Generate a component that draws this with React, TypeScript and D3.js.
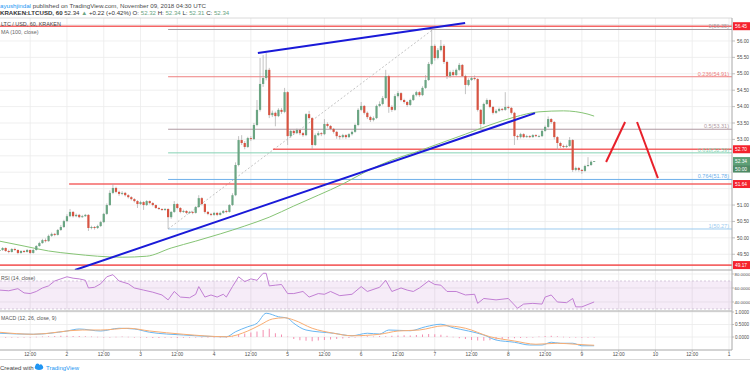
import * as d3 from "d3";

const FONT = "'Liberation Sans', Arial, sans-serif";

// hours counted from 2018-11-01 00:00, one candle per hour
const firstHour = 2;
const firstOpen = 49.6;

const closes = [
  49.63, 49.69, 49.6, 49.57, 49.66, 49.63, 49.54, 49.6, 49.57, 49.63,
  49.54, 49.63, 49.75, 49.84, 49.93, 49.9, 50.06, 50.12, 50.09, 50.24,
  50.33, 50.51, 50.66, 50.79, 50.66, 50.7, 50.63, 50.66, 50.7, 50.3,
  50.33, 50.3, 50.36, 50.48, 50.73, 51.0, 51.37, 51.52, 51.4, 51.34,
  51.37, 51.3, 51.24, 51.18, 51.12, 51.03, 51.09, 51.0, 51.12, 51.06,
  51.0, 50.91, 50.88, 50.85, 50.88, 50.63, 50.79, 51.03, 50.91, 50.79,
  50.82, 50.76, 50.79, 50.76, 50.94, 51.21, 51.03, 50.79, 50.73, 50.7,
  50.76, 50.7, 50.76, 50.82, 50.79, 51.0, 51.3, 52.22, 52.98, 52.89,
  52.77, 53.04, 53.01, 53.44, 53.9, 54.69, 54.87, 55.12, 53.74, 53.81,
  53.71, 53.9, 53.84, 54.44, 53.1, 53.26, 53.19, 53.29, 53.19, 53.13,
  53.77, 53.65, 52.83, 53.13, 53.19, 53.16, 53.47, 53.41, 53.32, 53.23,
  53.1, 53.07, 53.13, 53.07, 53.16, 53.23, 53.44, 53.9, 54.02, 53.81,
  53.68, 53.59, 53.65, 54.02, 54.08, 54.26, 54.93, 53.99, 53.9, 54.32,
  54.41, 54.2, 54.14, 54.05, 54.2, 54.35, 54.44, 54.35, 54.57, 54.81,
  55.3, 55.85, 55.48, 55.72, 55.85, 55.36, 54.93, 55.05, 54.96, 55.12,
  55.27, 54.93, 54.66, 54.81, 54.87, 54.84, 53.9, 53.47, 54.08, 54.2,
  53.99, 53.81, 53.87, 53.93, 53.9, 53.99, 53.96, 53.81, 53.1, 53.07,
  53.16, 53.07, 53.1, 53.07, 53.13, 53.1, 53.1, 53.26, 53.38, 53.62,
  53.53, 53.07, 52.89, 52.8, 52.77, 52.8, 52.98, 52.07, 52.13, 52.07,
  52.04, 52.19, 52.22, 52.32, 52.34,
];

const highs = [
  49.68, 49.72, 49.71, 49.64, 49.69, 49.7, 49.65, 49.62, 49.63, 49.66,
  49.64, 49.66, 49.78, 49.88, 49.97, 49.98, 50.1, 50.16, 50.15, 50.27,
  50.39, 50.55, 50.72, 50.88, 50.82, 50.74, 50.73, 50.7, 50.73, 50.72,
  50.37, 50.36, 50.4, 50.52, 50.76, 51.05, 51.45, 51.64, 51.56, 51.44,
  51.42, 51.4, 51.33, 51.27, 51.21, 51.15, 51.13, 51.12, 51.15, 51.14,
  51.09, 51.02, 50.94, 50.9, 50.91, 50.9, 50.82, 51.12, 51.06, 50.94,
  50.86, 50.84, 50.82, 50.82, 50.97, 51.3, 51.24, 51.06, 50.82, 50.76,
  50.79, 50.79, 50.8, 50.85, 50.86, 51.03, 51.36, 52.3, 53.1, 53.13,
  52.95, 53.08, 53.1, 53.5, 54.2, 55.48, 55.57, 55.63, 55.18, 53.88,
  53.85, 53.95, 53.96, 54.57, 54.47, 53.3, 53.29, 53.33, 53.31, 53.23,
  53.8, 53.87, 53.68, 53.18, 53.25, 53.22, 53.62, 53.52, 53.44, 53.35,
  53.26, 53.14, 53.17, 53.16, 53.19, 53.27, 53.48, 53.95, 54.14, 54.05,
  53.85, 53.72, 53.7, 54.06, 54.16, 54.32, 55.12, 54.97, 54.04, 54.38,
  54.47, 54.44, 54.24, 54.17, 54.24, 54.39, 54.48, 54.47, 54.62, 54.96,
  55.36, 56.35, 55.9, 55.78, 56.03, 55.9, 55.4, 55.1, 55.12, 55.16,
  55.33, 55.3, 54.97, 54.86, 54.92, 54.95, 54.87, 53.93, 54.12, 54.25,
  54.22, 54.02, 53.92, 53.97, 53.96, 54.44, 54.03, 53.99, 53.84, 53.14,
  53.2, 53.19, 53.14, 53.13, 53.16, 53.16, 53.14, 53.3, 53.42, 53.7,
  53.65, 53.56, 53.1, 52.93, 52.84, 52.84, 53.07, 53.01, 52.17, 52.16,
  52.1, 52.23, 52.46, 52.36, 52.34,
];

const lows = [
  49.56, 49.6, 49.57, 49.53, 49.55, 49.6, 49.5, 49.52, 49.54, 49.55,
  49.5, 49.52, 49.61, 49.73, 49.82, 49.86, 49.88, 50.03, 50.05, 50.07,
  50.21, 50.3, 50.48, 50.63, 50.62, 50.63, 50.6, 50.61, 50.64, 50.21,
  50.26, 50.25, 50.27, 50.33, 50.45, 50.7, 50.97, 51.33, 51.36, 51.28,
  51.3, 51.26, 51.2, 51.14, 51.08, 50.91, 51.0, 50.85, 50.97, 51.02,
  50.96, 50.88, 50.85, 50.82, 50.82, 50.27, 50.58, 50.76, 50.87, 50.75,
  50.76, 50.72, 50.73, 50.72, 50.74, 50.91, 50.99, 50.74, 50.69, 50.66,
  50.67, 50.66, 50.68, 50.73, 50.75, 50.77, 50.97, 51.27, 52.18, 52.83,
  52.7, 52.74, 52.95, 52.98, 53.4, 53.85, 54.6, 54.8, 53.65, 53.68,
  53.4, 53.68, 53.78, 53.8, 52.83, 53.05, 53.14, 53.16, 53.13, 53.08,
  53.1, 53.6, 52.7, 52.8, 53.1, 53.1, 53.13, 53.36, 53.28, 53.18,
  53.02, 53.0, 53.03, 53.02, 53.04, 53.12, 53.2, 53.4, 53.86, 53.76,
  53.62, 53.53, 53.55, 53.62, 53.98, 54.04, 54.22, 53.81, 53.84, 53.87,
  54.28, 54.16, 54.09, 53.99, 54.02, 54.17, 54.31, 54.3, 54.32, 54.54,
  54.78, 55.26, 55.4, 55.44, 55.68, 55.3, 54.84, 54.88, 54.92, 54.93,
  55.08, 54.9, 54.38, 54.62, 54.78, 54.8, 53.85, 53.35, 53.44, 54.05,
  53.95, 53.76, 53.78, 53.84, 53.86, 53.87, 53.92, 53.76, 52.83, 52.98,
  53.03, 53.04, 53.05, 53.04, 53.05, 53.07, 53.06, 53.07, 53.23, 53.35,
  53.48, 53.0, 52.68, 52.74, 52.73, 52.74, 52.77, 52.01, 52.03, 52.02,
  51.95, 52.01, 52.16, 52.19, 52.31,
];

// MA(100, close), read at candle indices
const maIdx = [0, 8, 16, 24, 32, 40, 48, 56, 64, 72, 80, 88, 96, 104, 112, 120, 128, 136, 144, 152, 160, 168, 176, 184, 192, 194];
const maVal = [49.9, 49.75, 49.6, 49.51, 49.44, 49.41, 49.44, 49.69, 49.9, 50.12, 50.36, 50.63, 50.97, 51.3, 51.64, 52.04, 52.37, 52.62, 52.89, 53.16, 53.44, 53.68, 53.84, 53.87, 53.77, 53.71];

// RSI(14)
const rsiIdx = [0, 3, 6, 8, 10, 12, 14, 16, 18, 20, 22, 24, 26, 28, 29, 31, 33, 35, 37, 39, 42, 44, 47, 50, 53, 55, 57, 59, 62, 64, 65, 67, 69, 71, 73, 74, 76, 78, 80, 82, 84, 86, 87, 88, 90, 92, 94, 96, 99, 100, 101, 104, 106, 108, 111, 115, 118, 120, 124, 126, 128, 131, 133, 135, 137, 140, 142, 144, 146, 149, 152, 155, 156, 158, 162, 166, 169, 171, 174, 177, 178, 180, 182, 185, 187, 188, 190, 194];
const rsiVal = [57, 56, 59, 53, 52, 55, 60, 63, 70, 73, 76, 74, 73, 71, 60, 61, 66, 76, 79, 70, 66, 60, 57, 54, 50, 43, 55, 47, 46, 51, 62, 47, 50, 47, 51, 47, 62, 76, 69, 73, 71, 81, 81, 63, 64, 65, 52, 52, 55, 51, 47, 52, 51, 55, 49, 51, 62, 55, 61, 71, 55, 60, 57, 55, 60, 70, 65, 64, 55, 55, 50, 51, 38, 45, 43, 45, 31, 37, 38, 37, 47, 50, 40, 39, 45, 33, 33, 40];

// MACD(12, 26, 9)
const macdIdx = [0, 11, 22, 26, 33, 39, 44, 49, 60, 74, 77, 81, 84, 87, 91, 94, 96, 100, 109, 115, 120, 124, 127, 134, 139, 144, 148, 153, 158, 162, 168, 173, 177, 180, 183, 187, 190, 194];
const macdVal = [0.15, 0.11, 0.24, 0.32, 0.24, 0.35, 0.32, 0.19, 0.08, 0.01, 0.21, 0.41, 0.55, 0.95, 0.81, 0.75, 0.55, 0.28, 0.15, 0.05, 0.15, 0.12, 0.28, 0.25, 0.41, 0.51, 0.37, 0.24, 0.08, -0.12, -0.21, -0.32, -0.32, -0.21, -0.25, -0.25, -0.35, -0.35];
const sigIdx = [0, 11, 27, 33, 42, 49, 60, 74, 81, 85, 89, 93, 96, 102, 109, 115, 124, 130, 137, 145, 152, 160, 168, 175, 182, 188, 192, 194];
const sigVal = [0.19, 0.11, 0.28, 0.28, 0.35, 0.24, 0.11, 0.01, 0.24, 0.48, 0.72, 0.77, 0.68, 0.35, 0.15, 0.05, 0.11, 0.24, 0.28, 0.45, 0.35, 0.01, -0.16, -0.29, -0.25, -0.29, -0.32, -0.33];
// histogram, every second candle
const histVal = [
  -0.03, -0.03, -0.02, -0.02, -0.01, 0.0, 0.01, 0.02, 0.03, 0.04,
  0.05, 0.05, 0.04, 0.04, 0.03, 0.02, 0.01, 0.0, -0.01, 0.01,
  0.02, 0.01, -0.01, -0.02, -0.03, -0.04, -0.04, -0.03, -0.03, -0.04,
  -0.03, -0.02, -0.01, -0.01, -0.02, -0.02, -0.01, -0.01, 0.02, 0.08,
  0.14, 0.18, 0.22, 0.28, 0.33, 0.15, 0.1, 0.02, -0.08, -0.13,
  -0.15, -0.17, -0.14, -0.12, -0.1, -0.08, -0.06, -0.04, -0.02, 0.02,
  0.03, 0.02, 0.04, 0.03, 0.05, 0.06, 0.07, 0.06, 0.08, 0.1,
  0.12, 0.11, 0.09, 0.05, 0.01, -0.05, -0.08, -0.12, -0.14, -0.15,
  -0.13, -0.1, -0.08, -0.06, -0.05, -0.04, -0.03, -0.01, 0.02, 0.04,
  0.05, 0.03, 0.01, -0.01, -0.02, -0.03, -0.02, -0.02,
];

// price axis
const priceTicks = [49.5, 50, 50.5, 51, 53, 53.5, 54, 54.5, 55, 55.5, 56];
const priceGrid = [49.5, 50, 50.5, 51, 51.5, 52, 52.5, 53, 53.5, 54, 54.5, 55, 55.5, 56, 56.5];

// time axis
const timeTicks = [12, 24, 36, 48, 60, 72, 84, 96, 108, 120, 132, 144, 156, 168, 180, 192, 204, 216, 228, 240];
const timeLabels = ["12:00", "2", "12:00", "3", "12:00", "4", "12:00", "5", "12:00", "6", "12:00", "7", "12:00", "8", "12:00", "9", "12:00", "10", "12:00", "1"];

// drawn horizontal levels
const levelPrices = [56.45, 52.7, 51.64, 49.17];
const levelFrom = [0, 91.2, 24.7, 0];

// fibonacci retracement
const fibRatios = ["0", "0.236", "0.5", "0.618", "0.764", "1"];
const fibPrices = [56.35, 54.91, 53.31, 52.59, 51.78, 50.27];
const fibColors = ["#a89ca2", "#ee8080", "#b09aa2", "#86d2b4", "#6fb0ea", "#9dcbef"];
const fibFrom = 57;
const fibTrend = [[57, 50.27], [143.4, 56.35]];

// trend lines [hour, price]
const upperTrend = [[86.3, 55.63], [153.9, 56.55]];
const lowerTrend = [[26.6, 49.02], [176.7, 53.8]];
const arrowUp = [[199.9, 52.31], [206.1, 53.53]];
const arrowDown = [[210, 53.53], [216.8, 51.82]];

const RSI_BAND = [70, 30];
const rsiTicks = [80, 60, 40];
const macdTicks = [1, 0.5, 0];

const UP = "#6ba583";
const DOWN = "#d75442";

export default function App() {
  const x = d3.scaleLinear().domain([0, 240]).range([-6.6, 729]);
  const y = d3.scaleLinear().domain([49.02, 56.7]).range([270, 18]);
  const yR = d3.scaleLinear().domain([27.1, 85.7]).range([311, 270]);
  const yM = d3.scaleLinear().domain([-0.52, 1.04]).range([350, 311]);
  const right = 732;

  const candles = closes.map((c, i) => ({
    t: firstHour + i,
    o: i === 0 ? firstOpen : closes[i - 1],
    h: highs[i],
    l: lows[i],
    c,
  }));

  const lineIdx = (yS: any) =>
    d3.line<[number, number]>()
      .x((d) => x(firstHour + d[0]))
      .y((d) => yS(d[1]))
      .curve(d3.curveMonotoneX);

  const maPath = lineIdx(y)(maIdx.map((t, i) => [t, maVal[i]]));
  const rsiPath = d3.line<[number, number]>()
    .x((d) => x(firstHour + d[0]))
    .y((d) => yR(d[1]))(rsiIdx.map((t, i) => [t, rsiVal[i]]));
  const macdPath = lineIdx(yM)(macdIdx.map((t, i) => [t, macdVal[i]]));
  const sigPath = lineIdx(yM)(sigIdx.map((t, i) => [t, sigVal[i]]));

  const seg = (p: number[][]) => ({ x1: x(p[0][0]), y1: y(p[0][1]), x2: x(p[1][0]), y2: y(p[1][1]) });

  const axisText = { fontSize: 4.8, fill: "#4d4d4d", fontFamily: FONT };
  const last = closes[closes.length - 1];

  const priceLabel = (p: number, txt: string, bg: string, key: string) => (
    <g key={key}>
      <rect x={733} y={y(p) - 4} width={17} height={8} fill={bg} />
      <text x={735} y={y(p) + 1.7} fontSize={4.8} fill="#fff" fontFamily={FONT}>{txt}</text>
    </g>
  );

  return (
    <svg width={750} height={375} style={{ position: "fixed", left: 0, top: 0, background: "#fff" }} fontFamily={FONT}>
      <defs>
        <clipPath id="main"><rect x={0} y={18} width={right} height={252} /></clipPath>
        <clipPath id="rsi"><rect x={0} y={270} width={right} height={41} /></clipPath>
        <clipPath id="macd"><rect x={0} y={311} width={right} height={39} /></clipPath>
      </defs>
      <rect width={750} height={375} fill="#fff" />

      {/* header */}
      <text x={0} y={7.5} fontSize={6.2}>
        <tspan fill="#2196f3">ayushjindal</tspan>
        <tspan fill="#4a4a4a"> published on TradingView.com, November 09, 2018 04:30 UTC</tspan>
      </text>
      <text x={0} y={14.6} fontSize={6.1} fill="#333">
        <tspan fontWeight="bold">KRAKEN:LTCUSD, 60</tspan>
        <tspan> 52.34 </tspan>
        <tspan fill={UP}>▲</tspan>
        <tspan> +0.22 (+0.42%) O: </tspan>
        <tspan fill={UP}>52.32</tspan>
        <tspan> H: </tspan>
        <tspan fill={UP}>52.34</tspan>
        <tspan> L: </tspan>
        <tspan fill={UP}>52.31</tspan>
        <tspan> C: </tspan>
        <tspan fill={UP}>52.34</tspan>
      </text>

      {/* grid */}
      {timeTicks.map((t) => (
        <line key={"vg" + t} x1={x(t)} x2={x(t)} y1={18} y2={350} stroke="#ebebeb" strokeWidth={0.8} />
      ))}
      {priceGrid.map((p) => (
        <line key={"hg" + p} x1={0} x2={right} y1={y(p)} y2={y(p)} stroke="#ebebeb" strokeWidth={0.8} />
      ))}
      {rsiTicks.map((v) => (
        <line key={"rg" + v} x1={0} x2={right} y1={yR(v)} y2={yR(v)} stroke="#ebebeb" strokeWidth={0.8} />
      ))}
      {macdTicks.map((v) => (
        <line key={"mg" + v} x1={0} x2={right} y1={yM(v)} y2={yM(v)} stroke="#ebebeb" strokeWidth={0.8} />
      ))}

      {/* main pane */}
      <g clipPath="url(#main)">
        {fibPrices.map((p, i) => (
          <line key={"fib" + i} x1={x(fibFrom)} x2={right} y1={y(p)} y2={y(p)} stroke={fibColors[i]} strokeWidth={1} />
        ))}
        <line {...seg(fibTrend)} stroke="#b5b5b5" strokeWidth={0.8} strokeDasharray="2,2" />
        {levelPrices.map((p, i) => (
          <line key={"lv" + i} x1={x(levelFrom[i])} x2={right} y1={y(p)} y2={y(p)} stroke="#f24a4a" strokeOpacity={0.85} strokeWidth={1.6} />
        ))}
        <path d={maPath ?? ""} fill="none" stroke="#86c475" strokeWidth={1} />
        {candles.map((d, i) => {
          const col = d.c >= d.o ? UP : DOWN;
          const top = y(Math.max(d.o, d.c));
          const bh = Math.max(0.8, y(Math.min(d.o, d.c)) - top);
          return (
            <g key={"c" + i}>
              <line x1={x(d.t)} x2={x(d.t)} y1={y(d.h)} y2={y(d.l)} stroke="#a9a9a9" strokeWidth={0.7} />
              <rect x={x(d.t) - 1.1} y={top} width={2.2} height={bh} fill={col} />
            </g>
          );
        })}
        <line {...seg(upperTrend)} stroke="#1a1ad8" strokeWidth={2} />
        <line {...seg(lowerTrend)} stroke="#1a1ad8" strokeWidth={2} />
        <line {...seg(arrowUp)} stroke="#e8202a" strokeWidth={2} />
        <line {...seg(arrowDown)} stroke="#e8202a" strokeWidth={2} />
        {fibPrices.map((p, i) => (
          <text key={"fl" + i} x={729} y={y(p) - 1} textAnchor="end" fontSize={5.5} fill={fibColors[i]}>
            {fibRatios[i]}({p.toFixed(2)})
          </text>
        ))}
      </g>
      <text x={1} y={26} fontSize={5.4} fill="#444">LTC / USD, 60, KRAKEN</text>
      <text x={1} y={34} fontSize={5.4} fill="#666">MA (100, close)</text>

      {/* RSI pane */}
      <g clipPath="url(#rsi)">
        <rect x={0} y={yR(RSI_BAND[0])} width={right} height={yR(RSI_BAND[1]) - yR(RSI_BAND[0])} fill="#9c27b0" fillOpacity={0.09} />
        {RSI_BAND.map((v) => (
          <line key={"rb" + v} x1={0} x2={right} y1={yR(v)} y2={yR(v)} stroke="#c3b3cc" strokeWidth={0.7} strokeDasharray="2,2" />
        ))}
        <path d={rsiPath ?? ""} fill="none" stroke="#c27fd4" strokeWidth={1} />
      </g>
      <text x={1} y={280} fontSize={5.2} fill="#555">RSI (14, close)</text>

      {/* MACD pane */}
      <g clipPath="url(#macd)">
        {histVal.map((v, i) => (
          <rect key={"h" + i} x={x(firstHour + i * 2) - 0.5} width={1} y={Math.min(yM(0), yM(v))} height={Math.max(0.6, Math.abs(yM(v) - yM(0)))} fill="#f48fb1" />
        ))}
        <path d={macdPath ?? ""} fill="none" stroke="#6ab7f2" strokeWidth={1} />
        <path d={sigPath ?? ""} fill="none" stroke="#f9ad72" strokeWidth={1} />
      </g>
      <text x={1} y={320} fontSize={5.2} fill="#555">MACD (12, 26, close, 9)</text>

      {/* frame */}
      <line x1={0} x2={right} y1={18} y2={18} stroke="#d0d0d0" strokeWidth={0.8} />
      <line x1={0} x2={right} y1={270} y2={270} stroke="#a8a8a8" strokeWidth={1} />
      <line x1={0} x2={right} y1={311} y2={311} stroke="#a8a8a8" strokeWidth={1} />
      <line x1={0} x2={right} y1={350} y2={350} stroke="#a8a8a8" strokeWidth={1} />
      <line x1={right} x2={right} y1={18} y2={350} stroke="#a8a8a8" strokeWidth={1} />
      <line x1={0} x2={750} y1={359.5} y2={359.5} stroke="#dadada" strokeWidth={1} />

      {/* price axis */}
      {priceTicks.map((p) => (
        <g key={"pt" + p}>
          <line x1={right} x2={right + 3} y1={y(p)} y2={y(p)} stroke="#a8a8a8" strokeWidth={0.7} />
          <text x={737} y={y(p) + 1.7} {...axisText}>{p.toFixed(2)}</text>
        </g>
      ))}
      {priceLabel(levelPrices[0], "56.45", "#f5222d", "l0")}
      {priceLabel(levelPrices[1], "52.70", "#f5222d", "l1")}
      {priceLabel(last, "52.34", "#5d9f76", "last")}
      <rect x={733} y={y(last) + 4} width={17} height={7.5} fill="#4f8a65" />
      <text x={735} y={y(last) + 9.5} fontSize={4.8} fill="#fff" fontFamily={FONT}>50:00</text>
      {priceLabel(levelPrices[2], "51.64", "#f5222d", "l2")}
      {priceLabel(levelPrices[3], "49.17", "#f5222d", "l3")}

      {rsiTicks.map((v) => (
        <g key={"rt" + v}>
          <line x1={right} x2={right + 2} y1={yR(v)} y2={yR(v)} stroke="#a8a8a8" strokeWidth={0.7} />
          <text x={734.5} y={yR(v) + 1.6} fontSize={4.4} fill="#4d4d4d">{v.toFixed(4)}</text>
        </g>
      ))}
      {macdTicks.map((v) => (
        <g key={"mt" + v}>
          <line x1={right} x2={right + 2} y1={yM(v)} y2={yM(v)} stroke="#a8a8a8" strokeWidth={0.7} />
          <text x={735} y={yM(v) + 1.6} fontSize={4.6} fill="#4d4d4d">{v.toFixed(4)}</text>
        </g>
      ))}

      {/* time axis */}
      {timeTicks.map((t, i) => (
        <g key={"tt" + t}>
          <line x1={x(t)} x2={x(t)} y1={350} y2={352} stroke="#a8a8a8" strokeWidth={0.7} />
          <text x={x(t)} y={356} textAnchor="middle" {...axisText}>{timeLabels[i]}</text>
        </g>
      ))}

      {/* footer */}
      <text x={0} y={369.5} fontSize={6} fill="#444">Created with</text>
      <g fill="#2196f3">
        <ellipse cx={39} cy={367.5} rx={4.2} ry={2.4} />
        <circle cx={37.5} cy={365.6} r={2} />
        <circle cx={40.8} cy={365.9} r={1.6} />
      </g>
      <text x={46} y={369.5} fontSize={6} fill="#2196f3">TradingView</text>
    </svg>
  );
}
